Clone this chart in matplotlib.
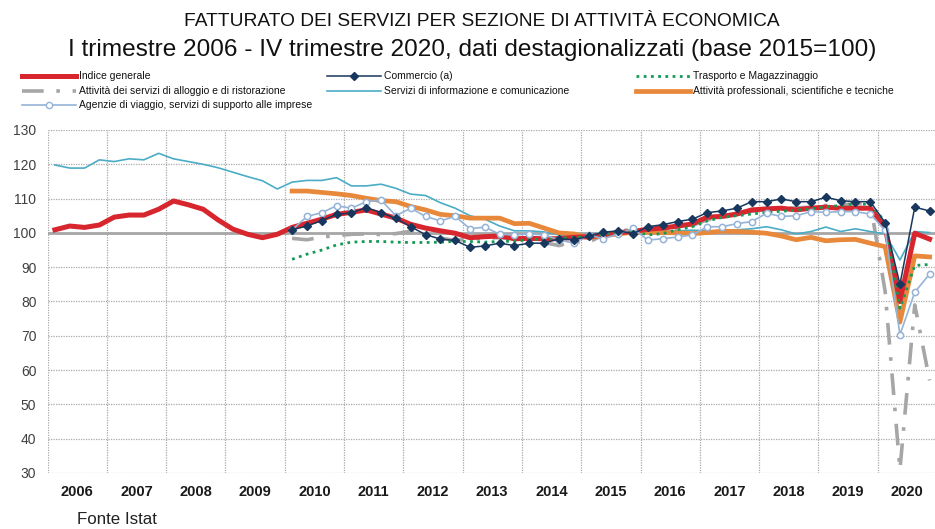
import numpy as np
import matplotlib
matplotlib.use("Agg")
import matplotlib.pyplot as plt
from matplotlib import font_manager as fm
from matplotlib.lines import Line2D

# ---------------- data ----------------
years = [str(y) for y in range(2006, 2021)]

indice_generale = [100.9, 102.0, 101.6, 102.3, 104.6, 105.2, 105.2, 106.9,
                   109.3, 108.2, 106.9, 103.8, 101.1, 99.6, 98.6, 99.6,
                   101.6, 102.8, 104.0, 105.4, 106.0, 106.7, 105.5, 104.3,
                   102.5, 101.4, 100.6, 99.9, 98.6, 98.9, 99.1, 98.3,
                   98.4, 98.3, 98.3, 98.7, 98.9, 99.4, 100.1, 100.4,
                   101.1, 101.4, 102.0, 102.6, 104.6, 104.8, 105.5, 106.7,
                   107.0, 107.2, 106.7, 107.2, 107.5, 107.2, 107.2, 107.2,
                   101.8, 80.0, 99.9, 98.2]

servizi_informazione = [119.8, 118.9, 118.9, 121.3, 120.8, 121.6, 121.3, 123.2,
                        121.6, 120.8, 120.0, 119.0, 117.7, 116.4, 115.2, 112.8,
                        114.8, 115.3, 115.3, 116.1, 113.7, 113.7, 114.2, 113.0,
                        111.3, 110.9, 108.8, 107.2, 105.0, 104.0, 102.0, 100.6,
                        100.6, 100.3, 99.4, 98.9, 99.7, 100.0, 100.2, 100.5,
                        100.3, 100.5, 100.6, 100.8, 100.6, 100.6, 100.9, 101.2,
                        101.8, 100.9, 99.7, 100.4, 101.7, 100.4, 101.2, 100.4,
                        99.7, 92.1, 100.4, 100.1]

# series available from I trimestre 2010
commercio = [100.9, 102.0, 103.6, 105.4, 105.8, 107.4, 105.9, 104.2,
             101.8, 99.5, 98.2, 97.8, 95.8, 96.2, 97.0, 96.3,
             97.0, 97.0, 98.3, 98.0, 99.0, 100.2, 100.6, 99.8,
             101.8, 102.4, 103.3, 104.0, 105.9, 106.4, 107.2, 109.1,
             109.1, 109.9, 109.1, 109.1, 110.4, 109.4, 109.1, 109.1,
             103.0, 85.0, 107.5, 106.4]

trasporto = [92.3, 93.8, 95.0, 96.5, 97.3, 97.5, 97.5, 97.3,
             97.2, 97.2, 97.3, 97.5, 97.5, 97.3, 97.5, 97.6,
             98.0, 98.2, 98.5, 98.6, 99.0, 99.5, 100.3, 100.6,
             99.4, 99.8, 100.9, 101.8, 103.5, 104.5, 105.0, 105.5,
             106.0, 106.3, 106.6, 107.0, 107.6, 108.0, 108.5, 108.3,
             103.3, 78.0, 90.5, 90.8]

alloggio = [98.4, 98.0, 98.8, 99.2, 99.6, 99.7, 99.5, 99.8,
            100.5, 99.3, 98.5, 97.8, 98.2, 98.5, 98.6, 98.4,
            98.0, 97.2, 96.3, 97.5, 97.2, 99.5, 100.5, 101.0,
            100.5, 100.6, 101.2, 102.2, 103.8, 104.6, 105.5, 106.3,
            106.8, 107.2, 107.3, 107.5, 108.0, 108.2, 108.5, 108.7,
            83.0, 31.0, 79.0, 57.0]

professionali = [112.2, 112.2, 111.8, 111.4, 110.9, 110.1, 109.4, 109.1,
                 107.7, 106.7, 105.4, 105.0, 104.3, 104.3, 104.3, 102.7,
                 102.8, 101.4, 100.0, 99.7, 98.6, 99.2, 99.7, 100.2,
                 100.2, 100.1, 100.0, 99.8, 100.1, 100.5, 100.4, 100.2,
                 99.9, 99.1, 98.0, 98.7, 97.7, 98.0, 98.1, 97.0,
                 96.0, 74.0, 93.3, 93.0]

agenzie = [100.9, 104.8, 105.9, 107.9, 107.2, 109.1, 109.6, 105.0,
           107.2, 104.8, 103.5, 104.8, 101.2, 101.7, 99.6, 99.4,
           99.7, 99.4, 98.0, 97.0, 99.4, 98.3, 99.7, 101.3,
           97.9, 98.3, 98.8, 99.4, 101.8, 101.8, 102.7, 103.3,
           105.7, 104.8, 105.0, 106.2, 106.0, 106.2, 106.2, 105.5,
           100.7, 70.3, 82.7, 88.0]

# ---------------- fonts ----------------
names = {f.name for f in fm.fontManager.ttflist}
NARROW = "Liberation Sans Narrow" in names
FN = "Liberation Sans Narrow" if NARROW else "Liberation Sans"
k = 1.0 if NARROW else 0.84
plt.rcParams["font.family"] = [FN, "DejaVu Sans"]

W, H = 935, 529
fig = plt.figure(figsize=(W / 100, H / 100), dpi=100)

ax_l, ax_r, ax_t, ax_b = 47.5, 937, 130, 473
ax = fig.add_axes([ax_l / W, 1 - ax_b / H, (ax_r - ax_l) / W, (ax_b - ax_t) / H])

nq = len(indice_generale)
x_all = np.arange(nq) + 0.5
start = nq - len(commercio)
x_late = x_all[start:]

# grid
for yv in range(30, 140, 10):
    if yv == 100:
        continue
    ax.axhline(yv, color="#A9A9A9", lw=0.9, ls=(0, (1, 1)), zorder=1)
for xv in range(0, nq + 1, 4):
    ax.axvline(xv, color="#A9A9A9", lw=0.9, ls=(0, (1, 1)), zorder=1)
ax.axhline(100, color="#A6A6A6", lw=2.0, zorder=1.5)

COL = {
    "ind": "#D8262E",
    "com": "#17375E",
    "tra": "#149A55",
    "all": "#A6A6A6",
    "inf": "#4BACC6",
    "pro": "#E8883A",
    "age": "#95B3D7",
}

ax.plot(x_late, alloggio, color=COL["all"], lw=2.6, ls=(0, (6, 3.5, 1, 3.5)), zorder=2)
ax.plot(x_all, servizi_informazione, color=COL["inf"], lw=1.2, zorder=3)
ax.plot(x_late, professionali, color=COL["pro"], lw=3.4, zorder=4)
ax.plot(x_all, indice_generale, color=COL["ind"], lw=3.6, zorder=5)
ax.plot(x_late, trasporto, color=COL["tra"], lw=2.0, ls=(0, (1, 1.6)), zorder=6)
ax.plot(x_late, agenzie, color=COL["age"], lw=1.2, marker="o", ms=4.5,
        mfc="white", mec=COL["age"], mew=1.1, zorder=7)
ax.plot(x_late, commercio, color=COL["com"], lw=1.1, marker="D", ms=4.2,
        mfc=COL["com"], mec=COL["com"], zorder=8)

ax.set_xlim(0, nq)
ax.set_ylim(30, 130)
for s in ax.spines.values():
    s.set_visible(False)
ax.set_yticks(range(30, 140, 10))
ax.set_yticklabels([str(v) for v in range(30, 140, 10)], fontsize=10.0, color="#404040")
ax.set_xticks(np.arange(2, nq, 4))
ax.set_xticklabels(years, fontsize=10.5, fontweight="bold", color="#1a1a1a")
ax.tick_params(axis="both", length=0)
ax.tick_params(axis="y", pad=8)
ax.tick_params(axis="x", pad=9)

# titles
fig.text(482 / W, 1 - 22 / H, "FATTURATO DEI SERVIZI PER SEZIONE DI ATTIVITÀ ECONOMICA",
         ha="center", va="center", fontsize=13.8, color="#111111")
fig.text(472 / W, 1 - 50 / H,
         "I trimestre 2006 - IV trimestre 2020, dati destagionalizzati (base 2015=100)",
         ha="center", va="center", fontsize=17.6, color="#111111")

# legend (manual, 3 columns)
legend_items = [
    (22, 76, "Indice generale", dict(color=COL["ind"], lw=3.6)),
    (327, 76, "Commercio (a)", dict(color=COL["com"], lw=1.1, marker="D", ms=4, markevery=[1])),
    (636, 76, "Trasporto e Magazzinaggio", dict(color=COL["tra"], lw=2.0, ls=(0, (1, 1.6)))),
    (22, 91, "Attività dei servizi di alloggio e di ristorazione",
     dict(color=COL["all"], lw=2.6, ls=(0, (6, 3.5, 1, 3.5)))),
    (327, 91, "Servizi di informazione e comunicazione", dict(color=COL["inf"], lw=1.2)),
    (636, 91, "Attività professionali, scientifiche e tecniche", dict(color=COL["pro"], lw=3.4)),
    (22, 105, "Agenzie di viaggio, servizi di supporto alle imprese",
     dict(color=COL["age"], lw=1.2, marker="o", ms=4.5, mfc="white", mec=COL["age"], markevery=[1])),
]
for x0, yy, label, style in legend_items:
    yf = 1 - yy / H
    xs = [x0 / W, (x0 + 27) / W, (x0 + 54) / W]
    fig.add_artist(Line2D(xs, [yf] * 3, transform=fig.transFigure, **style))
    fig.text((x0 + 57) / W, yf, label, ha="left", va="center", fontsize=7.5, color="#111111")

fig.text(77 / W, 1 - 520 / H, "Fonte Istat", ha="left", va="center", fontsize=12.2, color="#222222")

fig.savefig("out.png", dpi=100)
